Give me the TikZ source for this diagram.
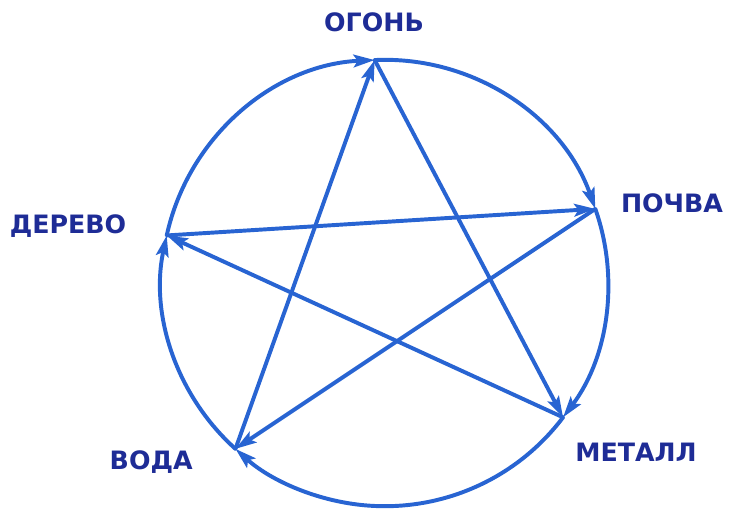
\documentclass[tikz,border=0pt]{standalone}
\usepackage{fontspec}
\setmainfont{DejaVu Sans}
\usetikzlibrary{arrows.meta,calc}

\definecolor{penblue}{RGB}{40,100,210}
\definecolor{inkblue}{RGB}{30,44,150}

\begin{document}
\begin{tikzpicture}[
    >=Stealth,
    stroke/.style={line width=2.8pt, color=penblue, line cap=round},
    arr/.style={stroke, -{Stealth[length=15pt, width=9pt, inset=3pt]}},
    element/.style={font=\fontsize{18}{18}\selectfont\bfseries, text=inkblue},
]
\useasboundingbox (0,0) rectangle (18.3,-12.9);

% === Circle points ===
\coordinate (C) at (9.62,-7.075);
\def\rad{5.58}
\coordinate (fire)  at ($(C)+(92.6:\rad)$);
\coordinate (earth) at ($(C)+(19.4:\rad)$);
\coordinate (metal) at ($(C)+(-37:\rad)$);
\coordinate (water) at ($(C)+(228:\rad)$);
\coordinate (wood)  at ($(C)+(167.7:\rad)$);

% === Labels ===
\node[element] (lfire)  at (9.35,-0.55) {ОГОНЬ};
\node[element] (learth) at (16.8,-5.08) {ПОЧВА};
\node[element] (lmetal) at (15.9,-11.3) {МЕТАЛЛ};
\node[element] (lwater) at (3.78,-11.55) {ВОДА};
\node[element] (lwood)  at (1.7,-5.65) {ДЕРЕВО};

% === Generating cycle (circle) ===
\draw[arr] (fire)  arc[start angle=92.6,  end angle=19.4,   radius=\rad];
\draw[arr] (earth) arc[start angle=19.4,  end angle=-37,    radius=\rad];
\draw[arr] (metal) arc[start angle=-37,   end angle=-132,   radius=\rad];
\draw[arr] (water) arc[start angle=228,   end angle=167.7,  radius=\rad];
\draw[arr] (wood)  arc[start angle=167.7, end angle=92.6,   radius=\rad];

% === Controlling cycle (star) ===
\draw[arr] (fire)  -- (metal);
\draw[arr] (metal) -- (wood);
\draw[arr] (wood)  -- (earth);
\draw[arr] (earth) -- (water);
\draw[arr] (water) -- (fire);

\end{tikzpicture}
\end{document}
